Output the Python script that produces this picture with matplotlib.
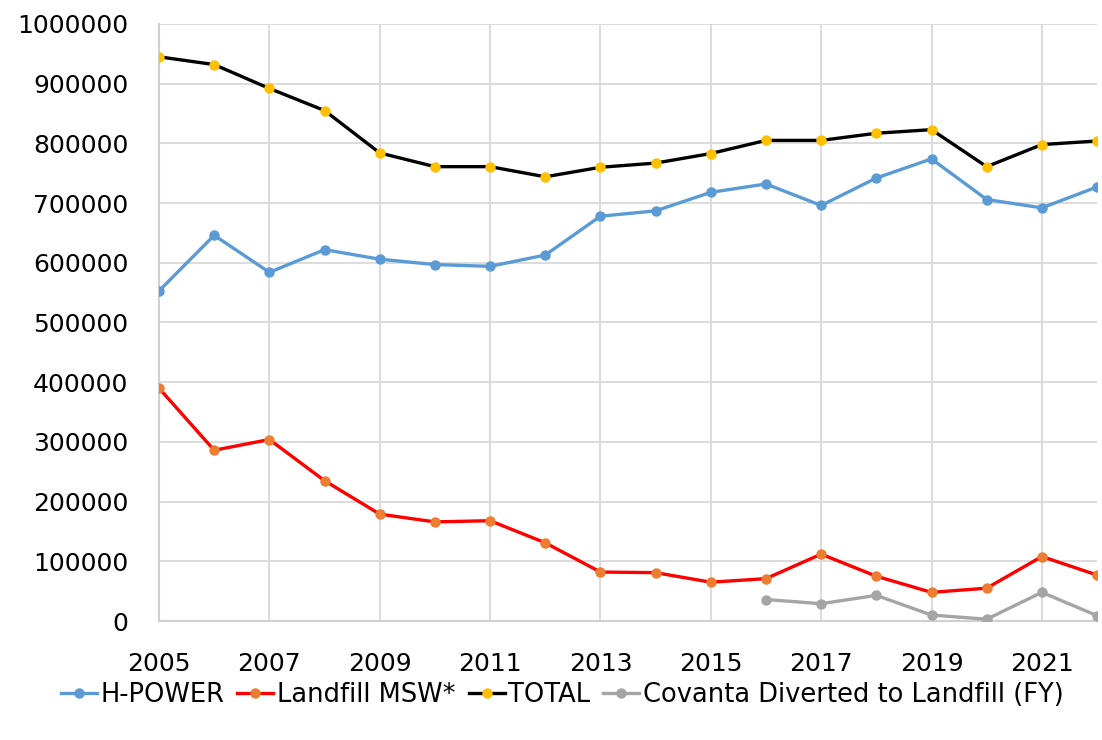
import matplotlib
matplotlib.use("Agg")
from matplotlib import pyplot as plt
from matplotlib.ticker import FuncFormatter

years = list(range(2005, 2023))
hpower = [553000, 646000, 584000, 622000, 606000, 597000, 594000, 613000, 678000,
          687000, 718000, 732000, 696000, 742000, 774000, 706000, 692000, 727000]
landfill = [390000, 286000, 304000, 235000, 179000, 166000, 168000, 131000, 82000,
            81000, 65000, 71000, 112000, 75000, 48000, 55000, 108000, 77000]
total = [945000, 932000, 892000, 855000, 784000, 761000, 761000, 744000, 760000,
         767000, 783000, 805000, 805000, 817000, 823000, 761000, 798000, 804000]
covanta_years = list(range(2016, 2023))
covanta = [36000, 29000, 43000, 10000, 3000, 48000, 9000]

plt.rcParams['font.family'] = ['DejaVu Sans']
fig = plt.figure(figsize=(11.02, 7.40), dpi=100)
ax = fig.add_axes([0.1443, 0.1608, 0.8512, 0.8068])

lw = 2.4
ms = 6.5
ax.plot(years, hpower, color="#5B9BD5", lw=lw, marker="o", ms=ms,
        markerfacecolor="#5B9BD5", markeredgecolor="#5B9BD5", label="H-POWER", zorder=3)
ax.plot(years, landfill, color="#FF0000", lw=lw, marker="o", ms=ms,
        markerfacecolor="#ED7D31", markeredgecolor="#ED7D31", label="Landfill MSW*", zorder=3)
ax.plot(years, total, color="black", lw=lw, marker="o", ms=ms,
        markerfacecolor="#FFC000", markeredgecolor="#FFC000", label="TOTAL", zorder=3)
ax.plot(covanta_years, covanta, color="#A5A5A5", lw=lw, marker="o", ms=ms,
        markerfacecolor="#A5A5A5", markeredgecolor="#A5A5A5",
        label="Covanta Diverted to Landfill (FY)", zorder=3)

ax.set_xlim(2005, 2022)
ax.set_ylim(0, 1000000)
ax.set_xticks(range(2005, 2022, 2))
ax.set_yticks(range(0, 1000001, 100000))
ax.yaxis.set_major_formatter(FuncFormatter(lambda v, p: "%d" % v))
ax.grid(True, color="#D9D9D9", lw=1.3)
ax.set_axisbelow(True)
for s in ["top", "right"]:
    ax.spines[s].set_visible(False)
for s in ["left", "bottom"]:
    ax.spines[s].set_color("#D0D0D0")
    ax.spines[s].set_linewidth(1.5)
ax.tick_params(axis="both", length=0, labelsize=18, colors="black")
ax.tick_params(axis="y", pad=22)
ax.tick_params(axis="x", pad=22)

ax.legend(loc="upper center", bbox_to_anchor=(0.43, -0.085), ncol=4, frameon=False,
          fontsize=18.5, handlelength=1.4, handletextpad=0.15, columnspacing=0.5,
          borderaxespad=0)

fig.savefig("out.png", dpi=100)
